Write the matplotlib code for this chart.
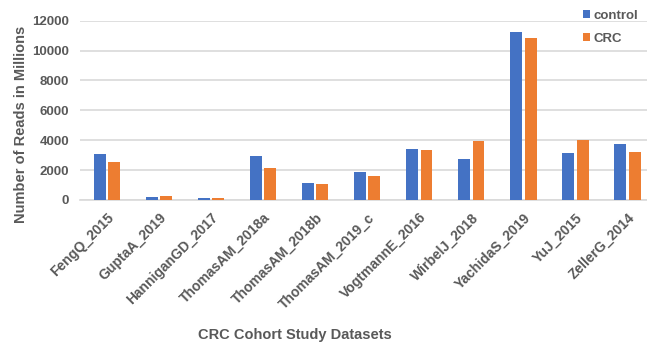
import numpy as np
import matplotlib
matplotlib.use("Agg")
import matplotlib.pyplot as plt

# reads per cohort, in millions
datasets = ["FengQ_2015", "GuptaA_2019", "HanniganGD_2017", "ThomasAM_2018a",
            "ThomasAM_2018b", "ThomasAM_2019_c", "VogtmannE_2016", "WirbelJ_2018",
            "YachidaS_2019", "YuJ_2015", "ZellerG_2014"]
control = [3070, 230, 160, 2920, 1160, 1870, 3410, 2770, 11220, 3120, 3770]
crc = [2540, 250, 110, 2170, 1090, 1630, 3370, 3970, 10870, 3990, 3190]

blue = "#4472C4"
orange = "#ED7D31"
grey = "#595959"

plt.rcParams['font.family'] = ['Liberation Sans', 'DejaVu Sans']

fig = plt.figure(figsize=(6.47, 3.43), dpi=100)
ax = fig.add_axes([80/647, (343-200)/343, 567/647, (200-20.7)/343])

x = np.arange(len(datasets))
w = 0.23
half_gap = 0.026
ax.bar(x - w/2 - half_gap, control, width=w, color=blue, label="control", zorder=3)
ax.bar(x + w/2 + half_gap, crc, width=w, color=orange, label="CRC", zorder=3)

ax.set_ylim(0, 12000)
ax.set_xlim(-0.52, 10.38)
ax.set_yticks(range(0, 12001, 2000))
ax.yaxis.grid(True, color="#D9D9D9", linewidth=1.2, zorder=0)
for s in ["top", "right", "left"]:
    ax.spines[s].set_visible(False)
ax.spines["bottom"].set_color("#D9D9D9")
ax.spines["bottom"].set_linewidth(1.2)
ax.tick_params(axis="both", length=0, labelsize=9.5, labelcolor=grey)
ax.tick_params(axis="y", pad=8)
for t in ax.get_yticklabels():
    t.set_fontweight("bold")

ax.set_xticks(x)
ax.set_xticklabels(datasets, rotation=45, ha="right", rotation_mode="anchor",
                   fontweight="bold", fontsize=10, color=grey)
ax.tick_params(axis="x", pad=7.5)

fig.text(295/647, 1 - 335/343, "CRC Cohort Study Datasets", ha="center", va="center",
         fontsize=10.5, fontweight="bold", color=grey)
fig.text(21/647, 1 - 124/343, "Number of Reads in Millions", ha="center", va="center",
         rotation=90, fontsize=10.5, fontweight="bold", color=grey)

leg = fig.legend(loc="upper left", bbox_to_anchor=(583/647, 1 - 10/343), frameon=False,
                 fontsize=9.5, handlelength=0.55, handleheight=0.55, handletextpad=0.25,
                 labelspacing=0.83, borderpad=0, borderaxespad=0)
for t in leg.get_texts():
    t.set_color(grey)
    t.set_fontweight("bold")

fig.savefig("out.png", dpi=100)
